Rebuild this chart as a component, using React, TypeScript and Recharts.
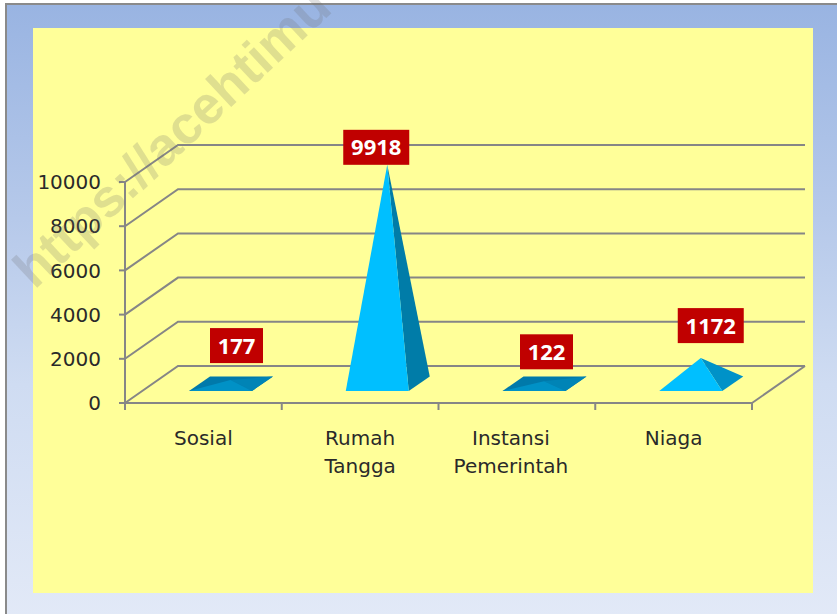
import React from 'react';
import { Bar, BarChart, CartesianGrid, LabelList, XAxis, YAxis } from 'recharts';

const categories = ['Sosial', 'Rumah Tangga', 'Instansi Pemerintah', 'Niaga'];
const values = [177, 9918, 122, 1172];
const yTicks = [0, 2000, 4000, 6000, 8000, 10000];

// manual label placement, the original boxes were dragged around by hand
const labelShiftX = [33, 16, 29.5, 37];
const labelGap = [17, 0, 12, 15];
const tickShiftX = [0, 0, -6, 0];

const data = categories.map((name, i) => ({ name, value: values[i] }));

const WIDTH = 837;
const HEIGHT = 614;
const PLOT_LEFT = 125;
const PLOT_TOP = 182;
const PLOT_RIGHT = 752;
const PLOT_BOTTOM = 403;
const DEPTH_X = 53;
const DEPTH_Y = 37;
const BAND = (PLOT_RIGHT - PLOT_LEFT) / categories.length;
const AXIS_COLOR = '#868686';
const AXIS_FONT = '"DejaVu Sans", sans-serif';

// 3d wall + floor line for each gridline
const renderGridLine = (props: any) => {
    const { x1, x2, y1, key } = props;
    const isFloor = Math.abs(y1 - PLOT_BOTTOM) < 1;
    return (
        <g key={key}>
            <polyline
                points={`${x1},${y1} ${x1 + DEPTH_X},${y1 - DEPTH_Y} ${x2 + DEPTH_X},${y1 - DEPTH_Y}`}
                fill="none"
                stroke={AXIS_COLOR}
                strokeWidth={2}
            />
            {isFloor && (
                <line x1={x2} y1={y1} x2={x2 + DEPTH_X} y2={y1 - DEPTH_Y} stroke={AXIS_COLOR} strokeWidth={2} />
            )}
        </g>
    );
};

const Pyramid = (props: any) => {
    const { x, y, width, height, value } = props;
    const v = Array.isArray(value) ? value[1] : value;
    const mid = x + width / 2;
    const bottom = y + height;
    const left = mid + 17 - width / 2;
    const right = mid + 17 + width / 2;
    const frontY = bottom - 12;
    const backY = bottom - 26.5;
    const apexX = mid + 27;
    const apexY = bottom - 19 - height;

    const front = v < 500 ? '#0091c6' : '#00bfff';
    const side = v > 5000 ? '#007ca8' : v > 500 ? '#0092c8' : '#0084b6';
    const back = '#0079aa';

    return (
        <g>
            {/* base first so no yellow shows through the seams on the flat ones */}
            {v < 500 && (
                <polygon points={`${left},${frontY} ${right},${frontY} ${right + 21},${backY} ${left + 21},${backY}`} fill={back} />
            )}
            <polygon points={`${right},${frontY} ${right + 21},${backY} ${apexX},${apexY}`} fill={side} />
            <polygon points={`${left},${frontY} ${right},${frontY} ${apexX},${apexY}`} fill={front} />
        </g>
    );
};

const ValueLabel = (props: any) => {
    const { x, y, width, value, index } = props;
    const text = String(value);
    const boxW = text.length > 3 ? 66 : 53;
    const boxH = 35;
    const cx = x + width / 2 + labelShiftX[index];
    const apexY = y - 19;
    const boxBottom = apexY - labelGap[index];
    return (
        <g>
            <rect x={cx - boxW / 2} y={boxBottom - boxH} width={boxW} height={boxH} fill="#c00000" />
            <text
                x={cx}
                y={boxBottom - boxH / 2 + 8}
                textAnchor="middle"
                fill="#ffffff"
                fontFamily='"Open Sans", sans-serif'
                fontWeight={700}
                fontSize={22}
            >
                {text}
            </text>
        </g>
    );
};

// category labels wrap on spaces, tick marks sit on the band edges
const CategoryTick = (props: any) => {
    const { x, y, payload, index } = props;
    const lines = String(payload.value).split(' ');
    const lineY = PLOT_BOTTOM;
    const textX = x + tickShiftX[index];
    return (
        <g>
            <line x1={x - BAND / 2} y1={lineY} x2={x - BAND / 2} y2={lineY + 7} stroke={AXIS_COLOR} strokeWidth={2} />
            {index === categories.length - 1 && (
                <line x1={x + BAND / 2} y1={lineY} x2={x + BAND / 2} y2={lineY + 7} stroke={AXIS_COLOR} strokeWidth={2} />
            )}
            <text x={textX} y={y} textAnchor="middle" fontFamily={AXIS_FONT} fontSize={20} fill="#2a2a2a">
                {lines.map((line, i) => (
                    <tspan key={i} x={textX} y={445 + i * 28}>
                        {line}
                    </tspan>
                ))}
            </text>
        </g>
    );
};

export default function App() {
    return (
        <div style={{ position: 'absolute', left: 0, top: 0, width: WIDTH, height: HEIGHT, overflow: 'hidden', background: '#fff' }}>
            <div
                style={{
                    position: 'absolute',
                    left: 5,
                    top: 3,
                    width: WIDTH,
                    height: HEIGHT,
                    boxSizing: 'border-box',
                    borderLeft: '2px solid #8a8a8a',
                    borderTop: '2px solid #8a8a8a',
                    background: 'linear-gradient(180deg, #99b4e2 0%, #b6c9ea 35%, #cfdcf2 62%, #e2e9f7 100%)',
                }}
            />
            <div style={{ position: 'absolute', left: 33, top: 28, width: 780, height: 565, background: '#ffff99' }} />
            <div style={{ position: 'absolute', left: 0, top: 0 }}>
                <BarChart
                    width={WIDTH}
                    height={HEIGHT}
                    data={data}
                    margin={{ top: PLOT_TOP, right: WIDTH - PLOT_RIGHT, bottom: 151, left: 0 }}
                    barSize={63}
                >
                    <CartesianGrid vertical={false} horizontal={renderGridLine} />
                    <XAxis
                        dataKey="name"
                        height={HEIGHT - PLOT_BOTTOM - 151}
                        interval={0}
                        tick={<CategoryTick />}
                        tickLine={false}
                        axisLine={{ stroke: AXIS_COLOR, strokeWidth: 2 }}
                    />
                    <YAxis
                        width={PLOT_LEFT}
                        domain={[0, 10000]}
                        ticks={yTicks}
                        interval={0}
                        tickSize={6}
                        tickMargin={18}
                        tick={{ fontFamily: AXIS_FONT, fontSize: 20, fill: '#2a2a2a' }}
                        tickLine={{ stroke: AXIS_COLOR, strokeWidth: 2 }}
                        axisLine={{ stroke: AXIS_COLOR, strokeWidth: 2 }}
                    />
                    <Bar dataKey="value" shape={<Pyramid />} isAnimationActive={false}>
                        <LabelList dataKey="value" content={<ValueLabel />} />
                    </Bar>
                </BarChart>
            </div>
            <div
                style={{
                    position: 'absolute',
                    left: 40,
                    top: 296,
                    transformOrigin: '0 100%',
                    transform: 'translateY(-100%) rotate(-43deg)',
                    fontFamily: '"Liberation Sans", sans-serif',
                    fontWeight: 700,
                    fontSize: 53,
                    lineHeight: '53px',
                    whiteSpace: 'nowrap',
                    color: 'rgba(110, 110, 110, 0.22)',
                    pointerEvents: 'none',
                }}
            >
                https://acehtimu
            </div>
        </div>
    );
}
